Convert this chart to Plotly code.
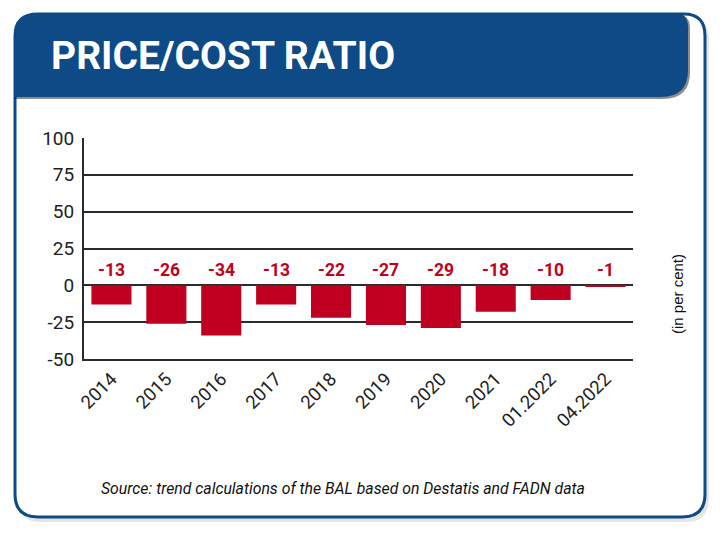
import plotly.graph_objects as go

categories = ["2014", "2015", "2016", "2017", "2018", "2019", "2020", "2021", "01.2022", "04.2022"]
values = [-13, -26, -34, -13, -22, -27, -29, -18, -10, -1]
value_labels = ["-13", "-26", "-34", "-13", "-22", "-27", "-29", "-18", "-10", "-1"]
y_ticks = [100, 75, 50, 25, 0, -25, -50]

title_text = "PRICE/COST RATIO"
unit_text = "(in per cent)"
source_text = "Source: trend calculations of the BAL based on Destatis and FADN data"

W, H = 720, 538
ML, MR, MT, MB = 84, 87, 138, 179
PW, PH = W - ML - MR, H - MT - MB

BLUE = "#0d4a86"
RED = "#bf0021"
GRID = "#2b2b2b"
FONT = "Roboto"

positions = list(range(len(categories)))


def px(x):
    return (x - ML) / PW


def py(y):
    return (H - MB - y) / PH


def path(points):
    out = []
    for p in points:
        cmd = p[0]
        coords = p[1:]
        vals = []
        for i in range(0, len(coords), 2):
            vals.append(f"{px(coords[i]):.5f},{py(coords[i+1]):.5f}")
        out.append(cmd + " " + " ".join(vals))
    return " ".join(out) + " Z"


fig = go.Figure()
fig.add_trace(go.Bar(
    x=positions, y=values, marker=dict(color=RED, line=dict(width=0)),
    hoverinfo="skip", showlegend=False,
))

shapes = []
shapes.append(dict(type="path", xref="paper", yref="paper", layer="below",
                   path=path([("M", 40, 18), ("L", 688, 18), ("Q", 709, 18, 709, 40),
                              ("L", 709, 498), ("Q", 709, 522, 686, 522),
                              ("L", 40, 522), ("Q", 18, 522, 18, 498)]),
                   fillcolor="rgba(0,0,0,0.10)", line=dict(width=0)))
shapes.append(dict(type="path", xref="paper", yref="paper", layer="below",
                   path=path([("M", 38, 14), ("L", 684, 14), ("Q", 705, 14, 705, 36),
                              ("L", 705, 494), ("Q", 705, 517, 682, 517),
                              ("L", 38, 517), ("Q", 15, 517, 15, 494), ("L", 15, 36),
                              ("Q", 15, 14, 38, 14)]),
                   fillcolor="white", line=dict(color=BLUE, width=3)))
shapes.append(dict(type="path", xref="paper", yref="paper", layer="below",
                   path=path([("M", 15, 40), ("Q", 15, 14, 40, 14), ("L", 676, 14),
                              ("Q", 690, 14, 690, 28), ("L", 690, 72),
                              ("Q", 690, 99, 663, 99), ("L", 15, 99)]),
                   fillcolor="rgba(0,0,0,0.45)", line=dict(width=0)))
shapes.append(dict(type="path", xref="paper", yref="paper", layer="below",
                   path=path([("M", 15, 38), ("Q", 15, 13, 40, 13), ("L", 674, 13),
                              ("Q", 688, 13, 688, 27), ("L", 688, 70),
                              ("Q", 688, 97, 661, 97), ("L", 15, 97)]),
                   fillcolor=BLUE, line=dict(width=0)))

annotations = [
    dict(text=f"<b>{title_text}</b>", xref="paper", yref="paper", x=px(49), y=py(56),
         xanchor="left", yanchor="middle", showarrow=False,
         font=dict(family=FONT, size=39, color="white")),
    dict(text=unit_text, xref="paper", yref="paper", x=px(677), y=py(294),
         xanchor="center", yanchor="middle", textangle=-90, showarrow=False,
         font=dict(family="Liberation Sans, Arial", size=15, color="#111")),
    dict(text=f"<i>{source_text}</i>", xref="paper", yref="paper", x=px(343), y=py(488),
         xanchor="center", yanchor="middle", showarrow=False,
         font=dict(family=FONT, size=15.8, color="#111")),
]
for pos, lab in zip(positions, value_labels):
    annotations.append(dict(text=f"<b>{lab}</b>", x=pos, y=0, xref="x", yref="y",
                            yanchor="bottom", yshift=3, showarrow=False,
                            font=dict(family=FONT, size=17.5, color=RED)))

fig.update_layout(
    width=W, height=H,
    margin=dict(l=ML, r=MR, t=MT, b=MB),
    paper_bgcolor="white", plot_bgcolor="rgba(0,0,0,0)",
    bargap=0.27,
    shapes=shapes, annotations=annotations,
    xaxis=dict(range=[-0.5, len(categories) - 0.5], tickvals=positions, ticktext=categories,
               tickangle=-45, showgrid=False, zeroline=False, ticks="",
               showline=True, linecolor=GRID, linewidth=2,
               tickfont=dict(family=FONT, size=18.5, color="#222")),
    yaxis=dict(range=[-50, 100], tickvals=y_ticks, ticktext=[str(v) for v in y_ticks],
               showgrid=True, gridcolor=GRID, gridwidth=1.5,
               zeroline=True, zerolinecolor=GRID, zerolinewidth=1.5,
               showline=True, linecolor=GRID, linewidth=2, ticks="", ticklen=0,
               ticklabelstandoff=4,
               tickfont=dict(family=FONT, size=19, color="#222")),
)

fig.write_html("out.html", config={"displayModeBar": False},
               post_script="document.body.style.margin='0px';")
